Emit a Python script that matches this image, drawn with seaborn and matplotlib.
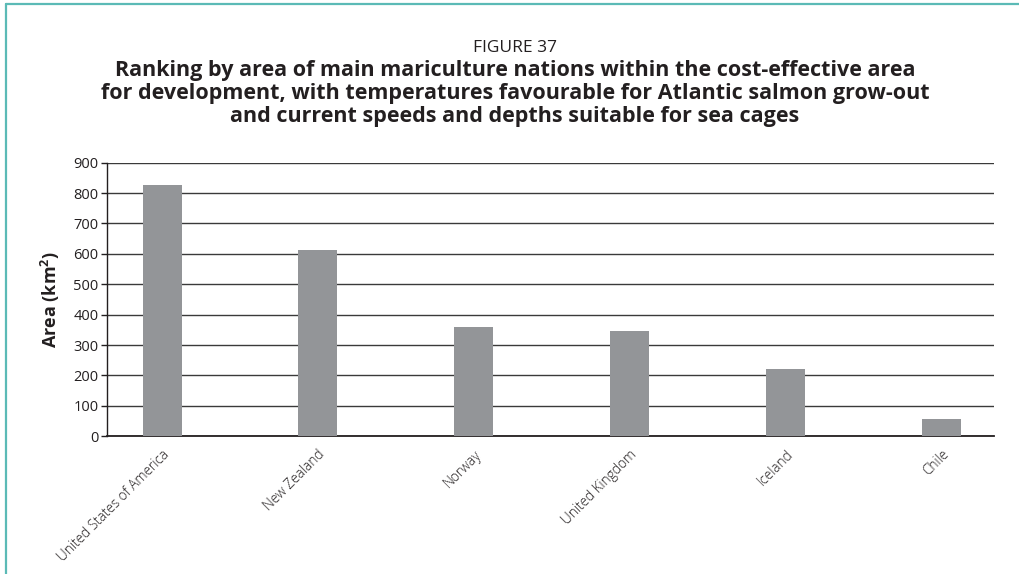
import matplotlib
matplotlib.use("Agg")
import matplotlib.pyplot as plt
from matplotlib.lines import Line2D
import seaborn as sns

# Area of sea suitable for salmon cages, by nation (km2)
countries = ["United States of America", "New Zealand", "Norway",
             "United Kingdom", "Iceland", "Chile"]
areas = [827, 613, 360, 346, 221, 57]
y_ticks = [0, 100, 200, 300, 400, 500, 600, 700, 800, 900]

figure_label = "FIGURE 37"
title_lines = [
    "Ranking by area of main mariculture nations within the cost-effective area",
    "for development, with temperatures favourable for Atlantic salmon grow-out",
    "and current speeds and depths suitable for sea cages",
]

sns.set_theme(style="white")
plt.rcParams["font.family"] = ["Open Sans", "DejaVu Sans"]
plt.rcParams["mathtext.fontset"] = "custom"
plt.rcParams["mathtext.rm"] = "Open Sans"
plt.rcParams["mathtext.bf"] = "Open Sans:bold"

BAR = "#939598"
TEAL = "#5bbab6"
INK = "#231f20"

fig = plt.figure(figsize=(10.2, 5.74), dpi=100)
fig.patch.set_facecolor("white")
ax = fig.add_axes([0.1049, 0.2399, 0.8696, 0.4767])

sns.barplot(x=countries, y=areas, color=BAR, saturation=1, width=0.25,
            linewidth=0, edgecolor="none", ax=ax, zorder=3)

ax.set_ylim(0, 900)
ax.set_xlim(-0.353, 5.337)
ax.set_yticks(y_ticks)
ax.yaxis.grid(True, color="#3a3a3a", linewidth=1.0)
ax.xaxis.grid(False)
ax.set_axisbelow(True)

for side in ("top", "right"):
    ax.spines[side].set_visible(False)
ax.spines["left"].set_color(INK)
ax.spines["left"].set_linewidth(1.0)
ax.spines["bottom"].set_color(INK)
ax.spines["bottom"].set_linewidth(1.3)

ax.tick_params(axis="y", which="both", left=True, direction="out", length=4,
               width=1, color=INK, labelsize=10.5, labelcolor=INK, pad=2)
ax.tick_params(axis="x", bottom=False, pad=2)

ax.set_xlabel("")
ax.set_ylabel(r"Area (km$^{\mathbf{2}}$)", fontsize=13, fontweight="bold",
              color=INK, labelpad=8)

ax.set_xticks(range(len(countries)))
ax.set_xticklabels(countries, rotation=45, ha="right", va="top",
                   rotation_mode="anchor", fontsize=9.8, fontweight="light",
                   color=INK)

fig.text(0.505, 0.917, figure_label, ha="center", va="center", fontsize=12.5,
         color=INK)
for i, line in enumerate(title_lines):
    fig.text(0.505, 0.877 - i * 0.0397, line, ha="center", va="center",
             fontsize=15.5, fontweight="bold", color=INK)

# Frame rules along the top and left edges
fig.add_artist(Line2D([6 / 1020, 1.0], [1 - 4 / 574, 1 - 4 / 574],
                      transform=fig.transFigure, color=TEAL, linewidth=1.6))
fig.add_artist(Line2D([6 / 1020, 6 / 1020], [0.0, 1 - 4 / 574],
                      transform=fig.transFigure, color=TEAL, linewidth=1.6))

fig.savefig("out.png", dpi=100, facecolor="white")
